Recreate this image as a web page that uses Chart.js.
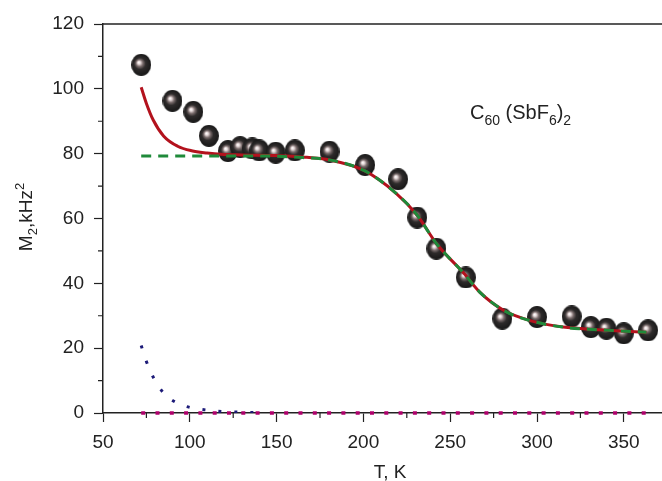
<!DOCTYPE html>
<html>
<head>
<meta charset="utf-8">
<script src="https://cdn.jsdelivr.net/npm/chart.js@4/dist/chart.umd.min.js"></script>
<style>
  html, body { margin: 0; padding: 0; background: #fff; }
  #c { display: block; }
</style>
</head>
<body>
<canvas id="c" width="662" height="481"></canvas>
<script>
// measured points (balls)
var tempT = [72, 90, 102, 111, 122, 129, 136, 140, 149.5, 160.5, 180.5, 201, 220, 231, 242, 259, 280, 300, 320, 331, 340, 350, 364];
var m2Vals = [107.4, 96.3, 92.9, 85.5, 80.8, 82, 81.6, 81, 80.3, 81, 80.6, 76.5, 72.1, 60.3, 50.7, 41.8, 29.1, 29.6, 29.8, 26.5, 26, 24.6, 25.5];

// total fit (red) and its two parts
var fitT = [72, 75, 79, 85, 93, 101, 110, 118, 130, 150, 165, 181, 200, 219, 231, 242, 258, 267, 281, 296, 315, 335, 363];
var fitTotal = [100.5, 95.5, 90.3, 85.4, 82.3, 80.9, 80.2, 79.8, 79.6, 79.4, 79, 78, 74.9, 67.7, 61, 52.3, 43, 37.3, 31.6, 28.5, 26.5, 25.7, 24.9];
var fitMain = [79.3, 79.3, 79.3, 79.3, 79.3, 79.3, 79.3, 79.3, 79.3, 79.2, 78.8, 78, 74.9, 67.7, 61, 52.3, 43, 37.3, 31.6, 28.5, 26.5, 25.7, 24.9];

var tailT = [72, 75, 79, 85, 93, 101, 110, 118, 126, 132, 140];
var tailVals = [20.8, 15.9, 11, 6.1, 3, 1.6, 0.9, 0.5, 0.3, 0.2, 0.1];

var zeroT = [72, 363];
var zeroVals = [0, 0];

var xTicks = [50, 100, 150, 200, 250, 300, 350];
var yTicks = [0, 20, 40, 60, 80, 100, 120];

function pts(xs, ys) {
  return xs.map(function(x, i) { return { x: x, y: ys[i] }; });
}

function makeBall() {
  var c = document.createElement('canvas');
  c.width = 20; c.height = 22;
  var g = c.getContext('2d');
  var grad = g.createRadialGradient(7.5, 8.5, 0, 10, 11, 11.5);
  grad.addColorStop(0, '#ffffff');
  grad.addColorStop(0.12, '#ece0e0');
  grad.addColorStop(0.3, '#7a6c6c');
  grad.addColorStop(0.5, '#2e2b2b');
  grad.addColorStop(1, '#141414');
  g.fillStyle = grad;
  g.beginPath();
  g.ellipse(10, 11, 10, 11, 0, 0, Math.PI * 2);
  g.fill();
  return c;
}
var ball = makeBall();

var ink = '#222';
var font = '"Liberation Sans", Arial, sans-serif';

var extras = {
  id: 'extras',
  afterDraw: function(chart) {
    var ctx = chart.ctx, a = chart.chartArea;
    var xs = chart.scales.x, ys = chart.scales.y;
    ctx.save();
    ctx.strokeStyle = ink;
    ctx.lineWidth = 1.5;
    // top frame line
    ctx.beginPath();
    ctx.moveTo(a.left, a.top);
    ctx.lineTo(a.right, a.top);
    ctx.stroke();
    // minor ticks
    ctx.lineWidth = 1.2;
    ctx.beginPath();
    for (var v = 75; v < 372; v += 50) {
      var px = xs.getPixelForValue(v);
      ctx.moveTo(px, a.bottom);
      ctx.lineTo(px, a.bottom + 5);
    }
    for (var w = 10; w < 120; w += 20) {
      var py = ys.getPixelForValue(w);
      ctx.moveTo(a.left, py);
      ctx.lineTo(a.left - 5, py);
    }
    ctx.stroke();

    ctx.fillStyle = ink;
    ctx.textBaseline = 'alphabetic';
    // x title
    ctx.font = '19px ' + font;
    ctx.textAlign = 'center';
    ctx.fillText('T, K', 390, 478);

    // y title with sub/superscript
    ctx.save();
    ctx.translate(31.5, 217);
    ctx.rotate(-Math.PI / 2);
    var parts = [['M', 19, 0], ['2', 13, 5], [',kHz', 19, 0], ['2', 13, -8]];
    var total = 0;
    parts.forEach(function(p) { ctx.font = p[1] + 'px ' + font; total += ctx.measureText(p[0]).width; });
    var cx = -total / 2;
    ctx.textAlign = 'left';
    parts.forEach(function(p) {
      ctx.font = p[1] + 'px ' + font;
      ctx.fillText(p[0], cx, p[2]);
      cx += ctx.measureText(p[0]).width;
    });
    ctx.restore();

    // annotation
    var ann = [['C', 20, 0], ['60', 14, 5.5], [' (SbF', 20, 0], ['6', 14, 5.5], [')', 20, 0], ['2', 14, 5.5]];
    var ax = 470;
    ctx.textAlign = 'left';
    ann.forEach(function(p) {
      ctx.font = p[1] + 'px ' + font;
      ctx.fillText(p[0], ax, 119 + p[2]);
      ax += ctx.measureText(p[0]).width;
    });
    ctx.restore();
  }
};

new Chart(document.getElementById('c'), {
  type: 'scatter',
  data: {
    datasets: [
      {
        label: 'fit main',
        data: pts(fitT, fitMain),
        showLine: true,
        borderColor: '#1f8a3a',
        borderWidth: 3,
        borderDash: [10, 7],
        pointRadius: 0,
        cubicInterpolationMode: 'monotone',
        order: 0
      },
      {
        label: 'fit total',
        data: pts(fitT, fitTotal),
        showLine: true,
        borderColor: '#b3121d',
        borderWidth: 3,
        pointRadius: 0,
        cubicInterpolationMode: 'monotone',
        order: 1
      },
      {
        label: 'tail',
        data: pts(tailT, tailVals),
        showLine: true,
        borderColor: '#1c1a78',
        borderWidth: 3,
        borderDash: [3, 13],
        pointRadius: 0,
        cubicInterpolationMode: 'monotone',
        order: 2
      },
      {
        label: 'zero',
        data: pts(zeroT, zeroVals),
        showLine: true,
        borderColor: '#b0006c',
        borderWidth: 3.5,
        borderDash: [4, 10.3],
        pointRadius: 0,
        clip: false,
        order: 3
      },
      {
        label: 'M2',
        data: pts(tempT, m2Vals),
        showLine: false,
        pointStyle: ball,
        pointRadius: 10,
        clip: false,
        order: 10
      }
    ]
  },
  options: {
    responsive: false,
    animation: false,
    events: [],
    layout: { autoPadding: false, padding: { top: 24, right: 0, left: 0, bottom: 0 } },
    plugins: { legend: { display: false }, tooltip: { enabled: false } },
    scales: {
      x: {
        type: 'linear',
        position: 'bottom',
        min: 50,
        max: 372,
        afterFit: function(s) { s.height = 68; s.paddingRight = 0; s.paddingLeft = 0; },
        border: { color: ink, width: 1.5 },
        grid: {
          drawOnChartArea: false,
          tickLength: 9,
          tickWidth: 1.2,
          tickColor: function(c) { return xTicks.indexOf(c.tick.value) >= 0 ? ink : 'rgba(0,0,0,0)'; }
        },
        ticks: {
          stepSize: 50,
          includeBounds: false,
          color: ink,
          padding: 9,
          maxRotation: 0,
          font: { family: font, size: 19 },
          callback: function(v) { return xTicks.indexOf(v) >= 0 ? v : ''; }
        }
      },
      y: {
        min: 0,
        max: 120,
        afterFit: function(s) { s.width = 103; s.paddingTop = 0; s.paddingBottom = 0; },
        border: { color: ink, width: 1.5 },
        grid: {
          drawOnChartArea: false,
          tickLength: 9,
          tickWidth: 1.2,
          tickColor: function(c) { return yTicks.indexOf(c.tick.value) >= 0 ? ink : 'rgba(0,0,0,0)'; }
        },
        ticks: {
          stepSize: 20,
          color: ink,
          padding: 10,
          font: { family: font, size: 19 },
          callback: function(v) { return yTicks.indexOf(v) >= 0 ? v : ''; }
        }
      }
    }
  },
  plugins: [extras]
});
</script>
</body>
</html>
